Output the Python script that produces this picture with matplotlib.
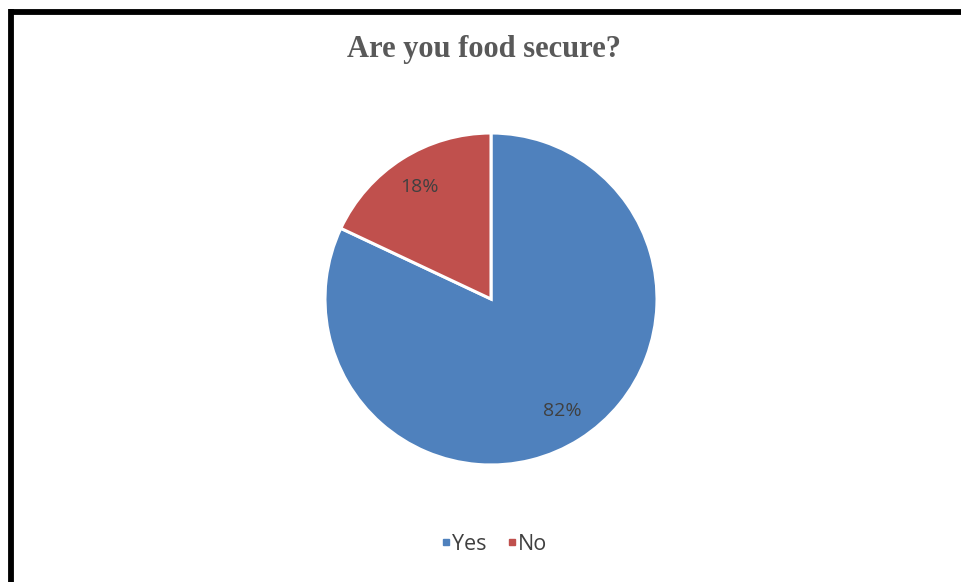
import matplotlib
matplotlib.use("Agg")
import matplotlib.pyplot as plt
from matplotlib.lines import Line2D

categories = ["Yes", "No"]
shares = [82, 18]
colors = ["#4F81BD", "#C0504D"]
title = "Are you food secure?"

W, H, DPI = 962, 582, 100
fig = plt.figure(figsize=(W / DPI, H / DPI), dpi=DPI)
fig.patch.set_facecolor("white")

# pie axes: centre (491, 299), radius 166 px
cx, cy, r = 491, 299, 166
ax = fig.add_axes([(cx - r) / W, (H - cy - r) / H, 2 * r / W, 2 * r / H])
wedges, texts, autotexts = ax.pie(
    shares, colors=colors, startangle=90, counterclock=False,
    autopct=lambda p: f"{p:.0f}%", pctdistance=0.8,
    wedgeprops=dict(edgecolor="white", linewidth=2.2),
    textprops=dict(fontsize=14, color="#404040", family="Open Sans"),
)
ax.set_xlim(-1, 1)
ax.set_ylim(-1, 1)
ax.set_aspect("equal")
ax.axis("off")

fig.text(484 / W, 1 - 49 / H, title, ha="center", va="center",
         fontsize=22, fontweight="bold", color="#595959",
         family="Liberation Serif")

handles = [Line2D([], [], marker="s", linestyle="none", markersize=4.5,
                  markerfacecolor=c, markeredgecolor=c) for c in colors]
fig.legend(handles, categories, loc="center", bbox_to_anchor=(494 / W, 1 - 544 / H),
           ncol=2, frameon=False, handlelength=0.5, handletextpad=0.05,
           columnspacing=0.9, prop=dict(family="Open Sans", size=15.5),
           labelcolor="#404040")

# frame lines along the top and left edges
fig.add_artist(Line2D([11 / W, 1.0], [1 - 11.5 / H, 1 - 11.5 / H],
                      transform=fig.transFigure, color="black", linewidth=4.2,
                      solid_capstyle="butt"))
fig.add_artist(Line2D([11 / W, 11 / W], [1 - 9 / H, 0.0],
                      transform=fig.transFigure, color="black", linewidth=4.2,
                      solid_capstyle="butt"))

fig.savefig("out.png", dpi=DPI, facecolor="white")
